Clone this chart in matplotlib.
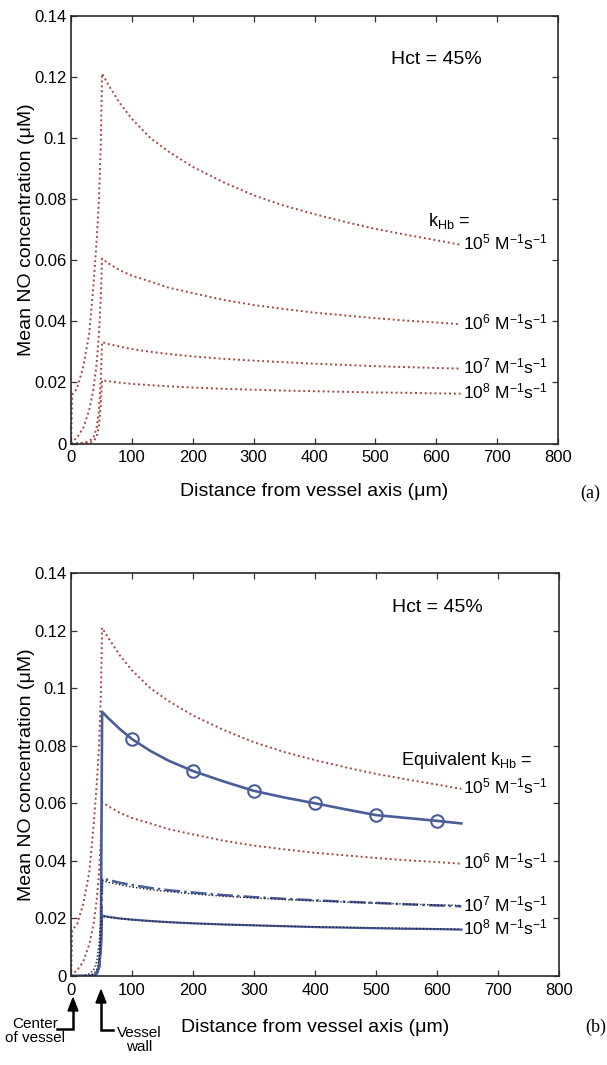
import matplotlib
matplotlib.use('Agg')
import matplotlib.pyplot as plt
from matplotlib.lines import Line2D
from matplotlib.patches import Polygon
from matplotlib.ticker import FixedLocator, FuncFormatter

plt.rcParams['font.family'] = ['Liberation Sans', 'DejaVu Sans']
plt.rcParams['mathtext.fontset'] = 'custom'
plt.rcParams['mathtext.rm'] = 'Liberation Sans'
plt.rcParams['mathtext.it'] = 'Liberation Sans:italic'
plt.rcParams['mathtext.bf'] = 'Liberation Sans:bold'

# ---------------- data ----------------
r_um = [0, 2, 10, 20, 30, 37, 42, 46, 49, 51, 60, 80, 100, 130, 160, 200,
        250, 300, 350, 400, 450, 500, 550, 600, 640]

conc_k1e5 = [0, 0.016, 0.018, 0.025, 0.036, 0.052, 0.066, 0.080, 0.098, 0.121,
             0.1178, 0.1114, 0.1062, 0.1000, 0.0955, 0.0905, 0.0855, 0.0812,
             0.0778, 0.0750, 0.0725, 0.0702, 0.0683, 0.0665, 0.0650]
conc_k1e6 = [0, 0.0005, 0.002, 0.005, 0.011, 0.018, 0.026, 0.036, 0.048, 0.0605,
             0.0591, 0.0567, 0.0549, 0.0530, 0.0510, 0.0492, 0.0470, 0.0453,
             0.0440, 0.0428, 0.0419, 0.0410, 0.0402, 0.0396, 0.0390]
conc_k1e7 = [0, 0, 0, 0.0002, 0.0008, 0.002, 0.005, 0.011, 0.021, 0.0332,
             0.0326, 0.0317, 0.0309, 0.0300, 0.0293, 0.0285, 0.0277, 0.0271,
             0.0266, 0.0261, 0.0257, 0.0253, 0.0250, 0.0247, 0.0245]
conc_k1e8 = [0, 0, 0, 0, 0.0002, 0.0008, 0.002, 0.006, 0.013, 0.0207,
             0.0204, 0.0199, 0.0195, 0.0191, 0.0187, 0.0183, 0.0179, 0.0176,
             0.0173, 0.0171, 0.0169, 0.0167, 0.0166, 0.0164, 0.0163]

# panel (b): particulate (RBC) model, equivalent k_Hb
conc_rbc_a = [0, 0, 0, 0, 0, 0.0002, 0.0008, 0.003, 0.012, 0.0918,
              0.0898, 0.0858, 0.0823, 0.0782, 0.0748, 0.0712, 0.0676, 0.0643,
              0.0620, 0.0600, 0.0579, 0.0559, 0.0549, 0.0539, 0.0530]
conc_rbc_b = [0, 0, 0, 0, 0, 0.0002, 0.0008, 0.003, 0.010, 0.0340,
              0.0334, 0.0324, 0.0316, 0.0306, 0.0298, 0.0290, 0.0281, 0.0274,
              0.0268, 0.0263, 0.0258, 0.0254, 0.0249, 0.0245, 0.0242]
conc_rbc_c = [0, 0, 0, 0, 0, 0.0002, 0.0008, 0.003, 0.009, 0.0210,
              0.0206, 0.0200, 0.0196, 0.0191, 0.0187, 0.0183, 0.0179, 0.0176,
              0.0173, 0.0170, 0.0168, 0.0166, 0.0164, 0.0163, 0.0161]
circle_r = [100, 200, 300, 400, 500, 600]
circle_c = [0.0823, 0.0712, 0.0643, 0.0600, 0.0559, 0.0539]

k_labels = [r'$\mathregular{10^5\ M^{-1}s^{-1}}$', r'$\mathregular{10^6\ M^{-1}s^{-1}}$',
            r'$\mathregular{10^7\ M^{-1}s^{-1}}$', r'$\mathregular{10^8\ M^{-1}s^{-1}}$']
x_ticks = [0, 100, 200, 300, 400, 500, 600, 700, 800]
y_ticks = [0, 0.02, 0.04, 0.06, 0.08, 0.10, 0.12, 0.14]

# ---------------- figure ----------------
W, H = 607, 1065
fig = plt.figure(figsize=(W / 100, H / 100), dpi=100)

def px_axes(l, t, r, b):
    return fig.add_axes([l / W, 1 - b / H, (r - l) / W, (b - t) / H])

RED = '#a8463f'
BLUE = '#4a5d99'
DOT = (0, (1, 1.5))

def style(ax, xlab_y):
    ax.set_xlim(0, 800)
    ax.set_ylim(0, 0.14)
    ax.xaxis.set_major_locator(FixedLocator(x_ticks))
    ax.yaxis.set_major_locator(FixedLocator(y_ticks))
    ax.yaxis.set_major_formatter(FuncFormatter(lambda v, p: '0' if v == 0 else '%g' % round(v, 2)))
    ax.tick_params(direction='in', length=4, width=0.9, top=True, right=True,
                   labelsize=12, color='#333333')
    ax.tick_params(axis='x', pad=5)
    ax.tick_params(axis='y', pad=3)
    for s in ax.spines.values():
        s.set_linewidth(1.2)
        s.set_color('#2a2a2a')
    ax.set_xlabel('Distance from vessel axis (\u03bcm)', fontsize=14)
    ax.set_ylabel('Mean NO concentration (\u03bcM)', fontsize=14)
    ax.xaxis.set_label_coords(0.5, xlab_y)
    ax.yaxis.set_label_coords(-0.073, 0.5)

def end_label(ax, series, text):
    ax.annotate(text, xy=(r_um[-1], series[-1]), xytext=(2, -5),
                textcoords='offset pixels', ha='left', va='baseline', fontsize=12.5)

# ---------- panel (a) ----------
ax1 = px_axes(71, 15.5, 558, 443.5)
for s in [conc_k1e5, conc_k1e6, conc_k1e7, conc_k1e8]:
    ax1.plot(r_um, s, color=RED, linestyle=DOT, linewidth=1.4)
style(ax1, -0.093)
ax1.text(600, 0.1257, 'Hct = 45%', ha='center', va='center', fontsize=14)
ax1.text(622, 0.0712, r'$\mathregular{k_{Hb}}$ =', ha='center', va='baseline', fontsize=13)
for s, lab in zip([conc_k1e5, conc_k1e6, conc_k1e7, conc_k1e8], k_labels):
    end_label(ax1, s, lab)

# ---------- panel (b) ----------
ax2 = px_axes(71, 573, 559, 976)
ax2.plot(r_um, conc_k1e5, color=RED, linestyle=DOT, linewidth=1.4)
ax2.plot(r_um, conc_k1e6, color=RED, linestyle=DOT, linewidth=1.4)
ax2.plot(r_um, conc_rbc_a, color=BLUE, linewidth=1.9)
ax2.plot(circle_r, circle_c, linestyle='none', marker='o', markersize=9,
         markerfacecolor='none', markeredgecolor=BLUE, markeredgewidth=1.5)
ax2.plot(r_um, conc_rbc_b, color=BLUE, linestyle='-.', linewidth=1.8)
ax2.plot(r_um, conc_k1e7, color='#222233', linestyle=DOT, linewidth=1.0)
ax2.plot(r_um, conc_rbc_c, color=BLUE, linewidth=1.6)
ax2.plot(r_um, conc_k1e8, color='#222233', linestyle=DOT, linewidth=1.0)
style(ax2, -0.106)
ax2.text(600, 0.128, 'Hct = 45%', ha='center', va='center', fontsize=14)
ax2.text(648, 0.0733, r'Equivalent $\mathregular{k_{Hb}}$ =', ha='center', va='baseline', fontsize=13)
for s, lab in zip([conc_k1e5, conc_k1e6, conc_rbc_b, conc_rbc_c], k_labels):
    end_label(ax2, s, lab)

# panel tags
fig.text(590 / W, 1 - 493 / H, '(a)', family=['Liberation Serif', 'DejaVu Serif'],
         fontsize=13, ha='center', va='center')
fig.text(596 / W, 1 - 1027 / H, '(b)', family=['Liberation Serif', 'DejaVu Serif'],
         fontsize=13, ha='center', va='center')

# ---------- annotations under panel (b) ----------
def fx(x):
    return x / W

def fy(y):
    return 1 - y / H

def add_line(pts):
    fig.add_artist(Line2D([fx(p[0]) for p in pts], [fy(p[1]) for p in pts],
                          color='black', linewidth=1.8, solid_joinstyle='miter'))

def add_head(x, ytip):
    fig.add_artist(Polygon([(fx(x), fy(ytip)), (fx(x - 5), fy(ytip + 13)),
                            (fx(x + 5), fy(ytip + 13))], closed=True,
                           color='black', transform=fig.transFigure))

add_line([(57, 1029), (73, 1029), (73, 1005)])
add_head(73, 998)
add_line([(113, 1030), (101, 1030), (101, 997)])
add_head(101, 990)

fig.text(fx(35), fy(1031), 'Center\nof vessel', fontsize=11, ha='center', va='center',
         linespacing=0.95)
fig.text(fx(139), fy(1040), 'Vessel\nwall', fontsize=11, ha='center', va='center',
         linespacing=0.95)

fig.savefig('out.png', dpi=100)
